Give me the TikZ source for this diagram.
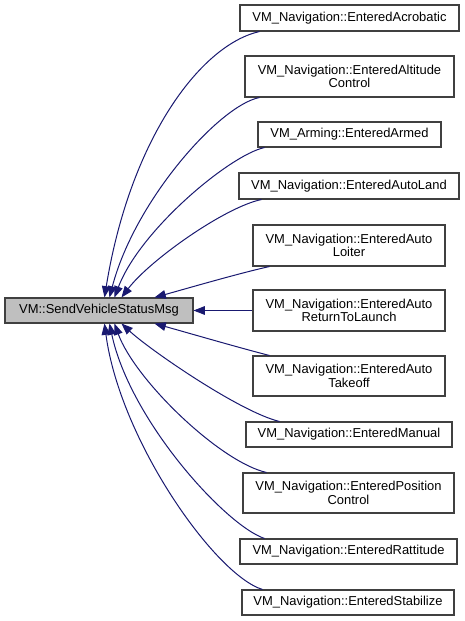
\documentclass[tikz,border=0pt]{standalone}
\usepackage{fontspec}
\setmainfont{Liberation Sans}
\usetikzlibrary{arrows.meta,calc}
\definecolor{edgeblue}{HTML}{191970}
\definecolor{boxline}{HTML}{404040}
\definecolor{mainfill}{HTML}{BFBFBF}
\tikzset{
  box/.style={draw=boxline, line width=0.8pt, fill=white, inner sep=0pt, align=center,
    font=\fontsize{9.7}{10}\selectfont},
  mainbox/.style={box, fill=mainfill},
  edge/.style={draw=edgeblue, line width=0.75pt, {Triangle[length=8.5pt,width=6.5pt]}-},
}
\newcommand\mybox[7][box]{%
  \node[#1, minimum width={(#5-#3)*0.75pt}, minimum height={(#6-#4)*0.75pt}]
    (#2) at ({(#3+#5)/2},{(#4+#6)/2}) {#7};}
\begin{document}
\begin{tikzpicture}[x=0.75pt,y=-0.75pt]
\useasboundingbox (0,0) rectangle (464,621);
\mybox[mainbox]{main}{5}{298}{193}{323}{VM::SendVehicleStatusMsg}
\mybox{acro}{240}{5}{459}{31}{VM\_Navigation::EnteredAcrobatic}
\mybox{alt}{245}{56}{454}{97}{VM\_Navigation::EnteredAltitude\\Control}
\mybox{armed}{258}{122}{441}{147}{VM\_Arming::EnteredArmed}
\mybox{land}{239}{173}{459}{199}{VM\_Navigation::EnteredAutoLand}
\mybox{loiter}{253}{225}{445}{266}{VM\_Navigation::EnteredAuto\\Loiter}
\mybox{rtl}{253}{290}{445}{331}{VM\_Navigation::EnteredAuto\\ReturnToLaunch}
\mybox{takeoff}{253}{356}{445}{396}{VM\_Navigation::EnteredAuto\\Takeoff}
\mybox{manual}{246}{422}{452}{447}{VM\_Navigation::EnteredManual}
\mybox{pos}{243}{473}{454}{513}{VM\_Navigation::EnteredPosition\\Control}
\mybox{ratt}{240}{539}{457}{564}{VM\_Navigation::EnteredRattitude}
\mybox{stab}{242}{590}{454}{615}{VM\_Navigation::EnteredStabilize}

\coordinate (m1) at ($(main.north west)+(100,0)$);
\coordinate (m2) at ($(main.north west)+(105,0)$);
\coordinate (m3) at ($(main.north west)+(110,0)$);
\coordinate (m4) at ($(main.north west)+(117,0)$);
\coordinate (m5) at ($(main.north west)+(150,0)$);
\coordinate (m7) at ($(main.south west)+(150,0)$);
\coordinate (m8) at ($(main.south west)+(117,0)$);
\coordinate (m9) at ($(main.south west)+(110,0)$);
\coordinate (m10) at ($(main.south west)+(105,0)$);
\coordinate (m11) at ($(main.south west)+(100,0)$);

\coordinate (a1) at ($(acro.south west)+(20,0)$);
\coordinate (a2) at ($(alt.south west)+(15,0)$);
\coordinate (a3) at ($(armed.south west)+(7,0)$);
\coordinate (a4) at ($(land.south west)+(23,0)$);
\coordinate (a5) at ($(loiter.south west)+(17,0)$);
\coordinate (a7) at ($(takeoff.north west)+(17,0)$);
\coordinate (a8) at ($(manual.north west)+(34,0)$);
\coordinate (a9) at ($(pos.north west)+(24,0)$);
\coordinate (a10) at ($(ratt.north west)+(25,0)$);
\coordinate (a11) at ($(stab.north west)+(21,0)$);

\draw[edge] (m1) .. controls (130,140) and (200,45) .. (a1);
\draw[edge] (m2) .. controls (135,200) and (220,105) .. (a2);
\draw[edge] (m3) .. controls (140,230) and (230,155) .. (a3);
\draw[edge] (m4) .. controls (150,260) and (225,207) .. (a4);
\draw[edge] (m5) .. controls (185,289) and (240,273) .. (a5);
\draw[edge] (main.east) -- (rtl.west);
\draw[edge] (m7) .. controls (185,332) and (240,348) .. (a7);
\draw[edge] (m8) .. controls (150,350) and (240,412) .. (a8);
\draw[edge] (m9) .. controls (135,380) and (220,462) .. (a9);
\draw[edge] (m10) .. controls (130,420) and (225,525) .. (a10);
\draw[edge] (m11) .. controls (120,440) and (215,575) .. (a11);
\end{tikzpicture}
\end{document}
